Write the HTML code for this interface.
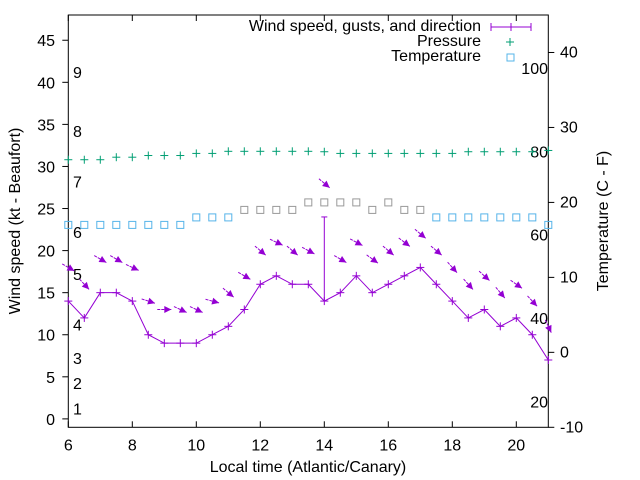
<!DOCTYPE html>
<html><head><meta charset="utf-8"><style>
body{margin:0;background:#fff}
svg{display:block;font-family:"Liberation Sans",sans-serif}
</style></head><body>
<svg id="chart" width="640" height="480" viewBox="0 0 640 480" xmlns="http://www.w3.org/2000/svg">
<rect width="640" height="480" fill="#fff"/>
<g id="axes"></g>
<g id="series"></g>
<g id="legend"></g>
</svg>
<script>
const hours=[6,6.5,7,7.5,8,8.5,9,9.5,10,10.5,11,11.5,12,12.5,13,13.5,14,14.5,15,15.5,16,16.5,17,17.5,18,18.5,19,19.5,20,20.5,21];
const windSpeed=[14,12,15,15,14,10,9,9,9,10,11,13,16,17,16,16,14,15,17,15,16,17,18,16,14,12,13,11,12,10,7];
const gusts=[null,null,null,null,null,null,null,null,null,null,null,null,null,null,null,null,24,null,null,null,null,null,null,null,null,null,null,null,null,null,null];
const windDirDeg=[30,47,30,30,25,18,0,25,25,15,40,30,40,25,40,28,40,30,28,36,40,37,40,40,48,48,42,50,35,47,65];
const pressure=[30.8,30.8,30.8,31.1,31.1,31.3,31.3,31.3,31.55,31.55,31.8,31.8,31.8,31.8,31.8,31.8,31.75,31.55,31.55,31.55,31.55,31.55,31.55,31.55,31.55,31.75,31.75,31.75,31.75,31.75,31.9];
const temperature=[17,17,17,17,17,17,17,17,18,18,18,19,19,19,19,20,20,20,20,19,20,19,19,18,18,18,18,18,18,18,17];
const xTicks=[6,8,10,12,14,16,18,20];
const yTicks=[0,5,10,15,20,25,30,35,40,45];
const y2Ticks=[-10,0,10,20,30,40];
const fahrenheitLabels=[100,80,60,40,20];
const beaufortLabels=[1,2,3,4,5,6,7,8,9];
const beaufortKt=[1,4,7,11,17,22,28,34,41];

const L=68.3,R=548.3,T=15,B=427.3;
const X=h=>L+(h-6)*(R-L)/15;
const Y=v=>B-(v+1)*(B-T)/49;
const Y2=c=>B-(c+10)*(B-T)/55;
const NS="http://www.w3.org/2000/svg";
const FS=16;
function mk(tag,attrs,parent){const e=document.createElementNS(NS,tag);for(const k in attrs)e.setAttribute(k,attrs[k]);parent.appendChild(e);return e;}
const axes=document.getElementById('axes'),series=document.getElementById('series'),legend=document.getElementById('legend');
const PURPLE="#9400d3",GREEN="#009e73",BLUE="#56b4e9";

let frame=mk('rect',{x:L,y:T,width:R-L,height:B-T,fill:'none',stroke:'#000','stroke-width':1},axes);



xTicks.forEach(t=>{
  const x=X(t);
  mk('line',{x1:x,y1:B,x2:x,y2:B-6,stroke:'#000'},axes);
  mk('line',{x1:x,y1:T,x2:x,y2:T+6,stroke:'#000'},axes);
  const tx=mk('text',{x:x,y:B+23,'font-size':FS,'text-anchor':'middle',fill:'#000'},axes);
  tx.textContent=t;
  
  
});
yTicks.forEach(t=>{
  const y=Y(t);
  mk('line',{x1:L-6,y1:y,x2:L,y2:y,stroke:'#000'},axes);
  const tx=mk('text',{x:55,y:y+6,'font-size':FS,'text-anchor':'end',fill:'#000'},axes);
  tx.textContent=t;
  
  
});
y2Ticks.forEach(t=>{
  const y=Y2(t);
  mk('line',{x1:R,y1:y,x2:R+6,y2:y,stroke:'#000'},axes);
  const tx=mk('text',{x:560,y:y+5,'font-size':FS,'text-anchor':'start',fill:'#000'},axes);
  tx.textContent=t;
  
  
});
fahrenheitLabels.forEach(f=>{
  const c=(f-32)*5/9;
  const tx=mk('text',{x:548,y:Y2(c)+5,'font-size':FS,'text-anchor':'end',fill:'#000'},axes);
  tx.textContent=f;
  
  
});
beaufortLabels.forEach((b,i)=>{
  const tx=mk('text',{x:73,y:Y(beaufortKt[i])+4,'font-size':FS,'text-anchor':'start',fill:'#000'},axes);
  tx.textContent=b;
  
  
});
let t1=mk('text',{x:308,y:472,'font-size':FS,'text-anchor':'middle',fill:'#000'},axes);
t1.textContent='Local time (Atlantic/Canary)';


let t2=mk('text',{x:0,y:0,'font-size':FS,'text-anchor':'middle',fill:'#000',transform:'translate(20,221) rotate(-90)'},axes);
t2.textContent='Wind speed (kt - Beaufort)';


let t3=mk('text',{x:0,y:0,'font-size':FS,'text-anchor':'middle',fill:'#000',transform:'translate(608,221) rotate(-90)'},axes);
t3.textContent='Temperature (C - F)';



function plus(x,y,c,s,parent){
  mk('line',{x1:x-s,y1:y,x2:x+s,y2:y,stroke:c},parent);
  mk('line',{x1:x,y1:y-s,x2:x,y2:y+s,stroke:c},parent);
}
pressure.forEach((p,i)=>{
  const g=mk('g',{},series);
  
  
  plus(X(hours[i]),Y(p),GREEN,4,g);
});
temperature.forEach((c,i)=>{
  const r=mk('rect',{x:X(hours[i])-3.5,y:Y2(c)-3.5,width:7,height:7,fill:'none',stroke:(i>=11&&i<=22)?'#999':BLUE},series);
  
  
});
const pts=windSpeed.map((v,i)=>X(hours[i])+','+Y(v)).join(' ');
const wl=mk('polyline',{points:pts,fill:'none',stroke:PURPLE,'stroke-width':1},series);


windSpeed.forEach((v,i)=>{
  const g=mk('g',{},series);
  
  
  plus(X(hours[i]),Y(v),PURPLE,4,g);
  if(gusts[i]!=null){
    const gl=mk('g',{},series);
    
    
    mk('line',{x1:X(hours[i]),y1:Y(v),x2:X(hours[i]),y2:Y(gusts[i]),stroke:PURPLE},gl);
    mk('line',{x1:X(hours[i])-3,y1:Y(gusts[i]),x2:X(hours[i])+3,y2:Y(gusts[i]),stroke:PURPLE},gl);
  }
});
windDirDeg.forEach((d,i)=>{
  const base=Math.max(windSpeed[i],gusts[i]==null?0:gusts[i])+4;
  const cx=X(hours[i]),cy=Y(base);
  const a=d*Math.PI/180,len=14;
  const ux=Math.cos(a),uy=Math.sin(a);
  const x1=cx-ux*len/2,y1=cy-uy*len/2,x2=cx+ux*len/2,y2=cy+uy*len/2;
  const g=mk('g',{},series);
  
  
  mk('line',{x1:x1,y1:y1,x2:x2,y2:y2,stroke:PURPLE,'stroke-width':1,'stroke-dasharray':'3,1'},g);
  const hl=7,hw=3.5;
  const bx=x2-ux*hl,by=y2-uy*hl;
  mk('polygon',{points:`${x2},${y2} ${bx-uy*hw},${by+ux*hw} ${bx+uy*hw},${by-ux*hw}`,fill:PURPLE},g);
});
function legText(txt,y,name){
  const t=mk('text',{x:481,y:y+5,'font-size':FS,'text-anchor':'end',fill:'#000'},legend);
  t.textContent=txt;
  
  
}
legText('Wind speed, gusts, and direction',26,'legend-entry-wind');
mk('line',{x1:491,y1:27,x2:531,y2:27,stroke:PURPLE},legend);
mk('line',{x1:491,y1:23,x2:491,y2:31,stroke:PURPLE},legend);
mk('line',{x1:531,y1:23,x2:531,y2:31,stroke:PURPLE},legend);
plus(511,27,PURPLE,4,legend);
legText('Pressure',41,'legend-entry-pressure');
plus(510,42,GREEN,4,legend);
legText('Temperature',56,'legend-entry-temperature');
mk('rect',{x:507,y:54,width:7,height:7,fill:'none',stroke:BLUE},legend);
</script>
</body></html>
